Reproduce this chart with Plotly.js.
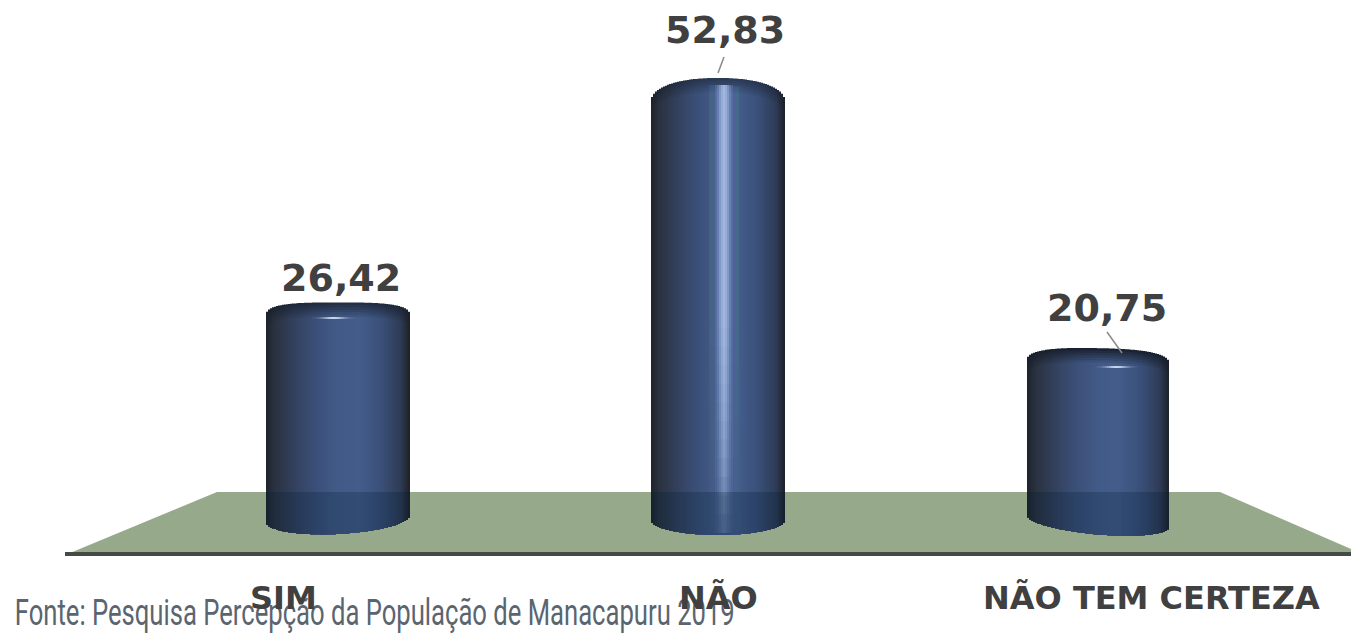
<!DOCTYPE html>
<html><head><meta charset="utf-8">
<script src="https://cdn.plot.ly/plotly-3.0.1.min.js"></script>
<style>html,body{margin:0;padding:0;background:#fff}#c{width:1351px;height:634px}</style>
</head><body><div id="c"></div>
<script>
// ---- chart data ----
const categories = ['SIM', 'NÃO', 'NÃO TEM CERTEZA'];
const values = [26.42, 52.83, 20.75];
const sourceNote = 'Fonte: Pesquisa Percepção da População de Manacapuru 2019';

// ---- drawing styles ----
const W = 1351, H = 634, AXIS_PX = 555;
const PX_PER_UNIT = 8.5, ZERO_PX = 527, PX_PER_CAT = 380, FIRST_CAT_PX = 338;
const widthPx = [144, 134, 142];
const topAdjust = [0, 0, -4];
const topDepth = [15, 24, 14], topPower = [3.2, 2.2, 2.6], topTilt = [0, 0, 3];
const rimStrength = [0.75, 0.55, 0.95];
const bottomTilt = [-3.5, 0, 6], bottomMid = [518.5, 520, 521], bottomSag = [15.5, 15, 13.5];
const labelShift = [-55, 0, 53], valueShiftX = [3, 7, 9], valueShiftY = [24.4, 48, 42.6];
const streakT = [-0.03, 0.09, 0.13], streakA = [0.07, 0.85, 0.05];
const glintPx = [318, null, 367], glintT = [-0.06, 0, 0.26];
const FLOOR_TOP = 492;
const stops = [[-1,[30,35,44]],[-.88,[42,50,64]],[-.6,[51,65,94]],[-.3,[59,80,121]],[0,[66,90,135]],
               [.3,[67,92,138]],[.6,[58,80,121]],[.87,[46,59,85]],[1,[29,32,38]]];

function profile(t){
  for(let i=1;i<stops.length;i++){ if(t<=stops[i][0]){
    const a=stops[i-1], b=stops[i], f=(t-a[0])/(b[0]-a[0]);
    return a[1].map((v,k)=>v+(b[1][k]-v)*f);
  }}
  return stops[stops.length-1][1];
}
const val = px => (ZERO_PX - px) / PX_PER_UNIT;
const rgb = c => `rgb(${c.map(Math.round).join(',')})`;
const mix = (c,d,f) => c.map((v,k)=>v+(d[k]-v)*f);

const sx=[], sy=[], sb=[], sw=[], so=[], sc=[];
function piece(i,left,step,topPx,botPx,color){
  if(botPx<=topPx) return;
  const cx = FIRST_CAT_PX + i*PX_PER_CAT;
  sx.push(categories[i]); sb.push(val(botPx)); sy.push((botPx-topPx)/PX_PER_UNIT);
  sw.push(step/PX_PER_CAT); so.push((left-cx)/PX_PER_CAT); sc.push(color);
}
values.forEach((v,i)=>{
  const cx = FIRST_CAT_PX + i*PX_PER_CAT, w = widthPx[i], step = 2, n = Math.round(w/step);
  const peak = ZERO_PX - v*PX_PER_UNIT + topAdjust[i];
  for(let s=0;s<n;s++){
    const left = cx - w/2 + s*step, t = (left+step/2-cx)/(w/2), at=Math.min(1,Math.abs(t));
    const top = peak + topDepth[i]*(1-Math.pow(1-Math.pow(at,topPower[i]),1/topPower[i])) + topTilt[i]*(t+1)/2;
    const bot = bottomMid[i] + bottomTilt[i]*t + bottomSag[i]*Math.sqrt(1-at*at);
    const c = profile(t);
    // bevel of the cap: dark rim fading into the body colour
    const L=7, d=2.4;
    for(let j=0;j<L;j++){
      piece(i,left,step,top+j*d,bot,rgb(mix(c,[24,32,46],rimStrength[i]*(1-j/(L-1)))));
    }
    // vertical light streak: nested veils, so it fades towards the foot without seams
    const a0 = streakA[i]*(Math.exp(-Math.pow((t-streakT[i])/0.09,2))*.8+Math.exp(-Math.pow((t-streakT[i])/0.25,2))*.2);
    if(a0>0.006){
      const y0=top+7, y1=bot-2, veils=12, low=a0*.2;
      piece(i,left,step,y0,y1,`rgba(178,203,246,${low.toFixed(4)})`);
      const each = 1-Math.pow((1-a0)/(1-low),1/veils);
      for(let q=1;q<=veils;q++){
        piece(i,left,step,y0,y0+(y1-y0)*(.5+.5*q/veils),`rgba(178,203,246,${each.toFixed(4)})`);
      }
    }
    // small glint under the cap
    if(glintPx[i]!==null){
      const g=Math.exp(-Math.pow((t-glintT[i])/0.16,2));
      if(g>.03) piece(i,left,step,glintPx[i]-1,glintPx[i]+1,`rgba(215,228,248,${(g*.9).toFixed(3)})`);
    }
    // part of the cylinder seen through the floor
    piece(i,left,step,FLOOR_TOP,bot,'rgba(0,26,52,0.25)');
  }
});

const px2x = p => p/W, px2y = p => (AXIS_PX-p)/AXIS_PX;
const poly = pts => 'M'+pts.map(p=>px2x(p[0])+','+px2y(p[1])).join('L')+'Z';
const shapes = [
  {type:'path',xref:'paper',yref:'paper',layer:'below',line:{width:0},fillcolor:'#96aa8b',
   path:poly([[217,492],[1220,492],[1351,549],[1351,553],[70,553]])},
  {type:'line',xref:'paper',yref:'paper',layer:'below',line:{color:'#454a45',width:4},
   x0:px2x(65),x1:1,y0:px2y(554),y1:px2y(554)},
  {type:'line',xref:'paper',yref:'paper',line:{color:'#8a8a8a',width:1.5},
   x0:px2x(724),y0:px2y(57),x1:px2x(718),y1:px2y(73)},
  {type:'line',xref:'paper',yref:'paper',line:{color:'#8a8a8a',width:1.5},
   x0:px2x(1107),y0:px2y(332),x1:px2x(1122),y1:px2y(353)}
];
const annotations = [
  {xref:'paper',yref:'paper',x:px2x(375),y:px2y(613),xanchor:'center',yanchor:'middle',showarrow:false,
   text:sourceNote,font:{family:'Roboto',size:36,color:'#5a6570'}}
];
categories.forEach((c,i)=>{
  annotations.push({xref:'x',yref:'paper',x:c,y:px2y(598),xshift:labelShift[i],xanchor:'center',yanchor:'middle',
    showarrow:false,text:'<b>'+c+'</b>',font:{family:'"DejaVu Sans"',size:32,color:'#404040'}});
  annotations.push({xref:'x',yref:'y',x:c,y:values[i],xshift:valueShiftX[i],yshift:valueShiftY[i],xanchor:'center',yanchor:'middle',
    showarrow:false,text:'<b>'+values[i].toFixed(2).replace('.',',')+'</b>',font:{family:'"DejaVu Sans"',size:38,color:'#404040'}});
});

const data = [
  {type:'bar',x:categories,y:values,width:0.35,marker:{color:'rgba(0,0,0,0)'},hoverinfo:'x+y',name:'Valores'},
  {type:'bar',x:sx,y:sy,base:sb,width:sw,offset:so,marker:{color:sc,line:{width:0}},hoverinfo:'skip',name:'Cilindros'}
];
const layout = {
  width:W,height:H,margin:{l:0,r:0,t:0,b:H-AXIS_PX,pad:0},paper_bgcolor:'#fff',plot_bgcolor:'rgba(0,0,0,0)',
  barmode:'overlay',showlegend:false,shapes,annotations,
  xaxis:{type:'category',categoryorder:'array',categoryarray:categories,
         range:[(0-FIRST_CAT_PX)/PX_PER_CAT,(W-FIRST_CAT_PX)/PX_PER_CAT],showticklabels:false,showgrid:false,zeroline:false,showline:false,ticks:'',fixedrange:true},
  yaxis:{range:[val(AXIS_PX),val(0)],visible:false,showgrid:false,zeroline:false,fixedrange:true}
};
Plotly.newPlot('c',data,layout,{displayModeBar:false}).then(()=>{
  // the source line uses a condensed face in the reference: squeeze it to the same span
  document.querySelectorAll('.annotation-text').forEach(el=>{
    if(el.textContent===sourceNote){
      el.setAttribute('textLength','720');
      el.setAttribute('lengthAdjust','spacingAndGlyphs');
    }
  });
});
</script></body></html>
